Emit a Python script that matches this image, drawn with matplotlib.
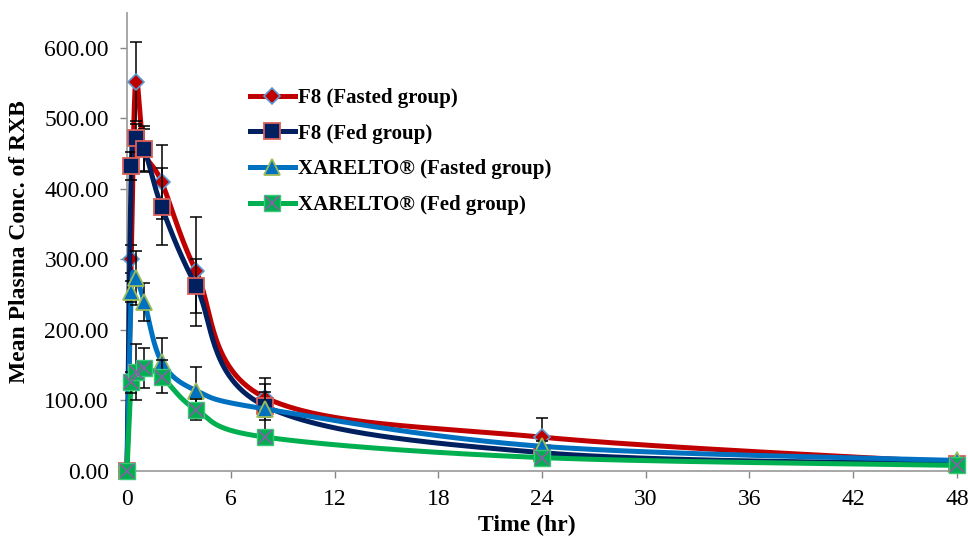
import numpy as np
import matplotlib
matplotlib.use("Agg")
import matplotlib.pyplot as plt
from matplotlib.lines import Line2D
from matplotlib.legend_handler import HandlerTuple

plt.rcParams['font.family'] = ['Liberation Serif', 'DejaVu Serif']

# ---- data ----
time_hr = [0, 0.25, 0.5, 1, 2, 4, 8, 24, 48]
f8_fasted = [0, 301, 552, 455, 410, 283, 104, 48, 12]
f8_fasted_sd = [0, 20, 56, 30, 52, 77, 28, 27, 4]
f8_fed = [0, 433, 472, 457, 375, 262, 92, 26, 10]
f8_fed_sd = [0, 20, 20, 33, 55, 38, 20, 8, 3]
xarelto_fasted = [0, 254, 274, 240, 155, 114, 88, 35, 15]
xarelto_fasted_sd = [0, 15, 38, 27, 33, 33, 36, 8, 3]
xarelto_fed = [0, 126, 140, 146, 134, 87, 48, 19, 8]
xarelto_fed_sd = [0, 15, 40, 28, 24, 15, 8, 5, 2]

labels = ["F8 (Fasted group)", "F8 (Fed group)",
          "XARELTO\u00ae (Fasted group)", "XARELTO\u00ae (Fed group)"]
x_ticks = [0, 6, 12, 18, 24, 30, 36, 42, 48]
y_ticks = [0, 100, 200, 300, 400, 500, 600]


def smooth(x, y, n=60):
    """Excel-style smoothed line (Catmull-Rom Bezier, tension 1/6)."""
    P = np.column_stack([x, y]).astype(float)
    out = []
    m = len(P)
    for i in range(m - 1):
        p0 = P[i - 1] if i > 0 else P[i]
        p1 = P[i]
        p2 = P[i + 1]
        p3 = P[i + 2] if i + 2 < m else P[i + 1]
        c1 = p1 + (p2 - p0) / 6.0
        c2 = p2 - (p3 - p1) / 6.0
        t = np.linspace(0, 1, n)[:, None]
        seg = ((1 - t) ** 3) * p1 + 3 * ((1 - t) ** 2) * t * c1 + \
            3 * (1 - t) * t ** 2 * c2 + t ** 3 * p2
        out.append(seg if i == 0 else seg[1:])
    out = np.vstack(out)
    return out[:, 0], out[:, 1]


fig = plt.figure(figsize=(9.68, 5.43), dpi=100)
ax = fig.add_axes([127 / 968, 72 / 543, 830 / 968, 458.3 / 543])
ax.set_xlim(0, 48)
ax.set_ylim(0, 650)

series = [
    (f8_fasted, f8_fasted_sd, '#C00000', dict(marker='D', ms=8.5, mfc='#C00000', mec='#5B9BD5', mew=1.2)),
    (f8_fed, f8_fed_sd, '#002060', dict(marker='s', ms=12, mfc='#002060', mec='#D9605A', mew=1.3)),
    (xarelto_fasted, xarelto_fasted_sd, '#0070C0', dict(marker='^', ms=12, mfc='#0070C0', mec='#9BBB59', mew=1.3)),
    (xarelto_fed, xarelto_fed_sd, '#00B050', dict(marker='s', ms=12, mfc='#00B050', mec='#3CC878', mew=1.0)),
]

handles = []
for k, (vals, sd, col, mk) in enumerate(series):
    z = 3 + k * 2
    sx, sy = smooth(time_hr, vals)
    ax.plot(sx, sy, color=col, lw=3.6, solid_capstyle='round', zorder=z, clip_on=False)
    ax.errorbar(time_hr, vals, yerr=sd, fmt='none', ecolor='black', elinewidth=1.1,
                capsize=4.5, capthick=1.1, zorder=z + 0.5, clip_on=False)
    ax.plot(time_hr, vals, linestyle='none', zorder=z + 1, clip_on=False, **mk)
    h = Line2D([], [], color=col, lw=3.6, **mk)
    if k == 3:
        ax.plot(time_hr, vals, linestyle='none', marker='x', ms=10, mec='#8064A2', mew=1.3,
                zorder=z + 1.2, clip_on=False)
        hx = Line2D([], [], linestyle='none', marker='x', ms=10, mec='#8064A2', mew=1.3)
        h = (h, hx)
    handles.append(h)

leg = ax.legend(handles, labels, loc='upper left', bbox_to_anchor=(250 / 968, 1 - 88 / 543),
                bbox_transform=fig.transFigure, frameon=False, borderpad=0, borderaxespad=0,
                handlelength=2.15, handletextpad=0.15, labelspacing=0.75, numpoints=1,
                prop=dict(family='Liberation Serif', weight='bold', size=15),
                handler_map={tuple: HandlerTuple(ndivide=1)})

ax.set_xticks(x_ticks)
ax.set_xticklabels([str(v) for v in x_ticks])
ax.set_yticks(y_ticks)
ax.set_yticklabels([f"{v:.2f}" for v in y_ticks])
ax.tick_params(axis='both', labelsize=17, colors='#868686', labelcolor='black',
               length=5, width=1.0, direction='out')
ax.tick_params(axis='y', pad=8)
ax.tick_params(axis='x', pad=8)

for s in ['top', 'right']:
    ax.spines[s].set_visible(False)
for s in ['left', 'bottom']:
    ax.spines[s].set_color('#A0A0A0')
    ax.spines[s].set_linewidth(1.3)

ax.set_xlabel("Time (hr)", fontsize=17, fontweight='bold')
ax.set_ylabel("Mean Plasma Conc. of RXB", fontsize=17, fontweight='bold')
ax.xaxis.set_label_coords((527 - 127) / 830, (471 - 525) / 458.3)
ax.yaxis.set_label_coords((20 - 127) / 830, 0.5)
ax.xaxis.label.set_va('center')
ax.yaxis.label.set_va('center')

fig.savefig("out.png", dpi=100)
